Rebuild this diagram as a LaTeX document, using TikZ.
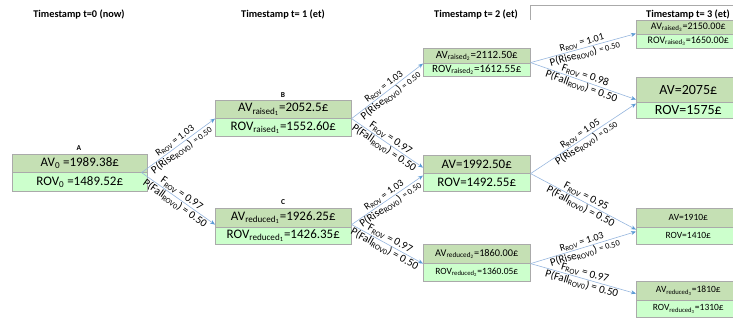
\documentclass[tikz,border=0pt]{standalone}
\usepackage{fontspec}
\setmainfont{Carlito}
\usetikzlibrary{arrows.meta}
\definecolor{avgreen}{RGB}{197,224,180}
\definecolor{rovgreen}{RGB}{204,255,204}
\definecolor{boxgray}{RGB}{170,170,170}
\definecolor{edgeblue}{RGB}{150,182,222}
\definecolor{tipblue}{RGB}{91,155,213}
\newcommand{\sub}[1]{\textsubscript{#1}}
\newcommand{\fs}[1]{\fontsize{#1}{#1}\selectfont}
\begin{document}
\begin{tikzpicture}[x=1pt, y=-1pt,
  cell/.style={draw=boxgray, line width=0.6pt, inner sep=0pt, anchor=north west},
  avrow/.style={cell, fill=avgreen},
  rovrow/.style={cell, fill=rovgreen},
  heading/.style={font=\fs{10.3}\bfseries},
  tag/.style={font=\fs{7.5}\bfseries},
  link/.style={draw=edgeblue, line width=0.6pt, -{Stealth[length=5pt,width=4pt,color=tipblue]}},
  rlab/.style={font=\fs{10}, sloped, above, inner sep=1pt},
  flab/.style={font=\fs{11}, sloped, above, inner sep=1pt},
  plab/.style={font=\fs{11}, sloped, below, inner sep=0.5pt}]
\useasboundingbox (0,0) rectangle (733,320);
% Timestamps
\node[heading] (h0) at (79,14) {Timestamp t=0 (now)};
\node[heading] (h1) at (283,14) {Timestamp t= 1 (et)};
\node[heading] (h2) at (476,14) {Timestamp t= 2 (et)};
\node[heading] (h3) at (688,14) {Timestamp t= 3 (et)};
\draw[boxgray, line width=0.6pt] (740,5) -- (530,5) -- (530,20);
% t=0
\node[tag] (tA) at (79,148) {A};
\node[avrow, minimum width=135pt, minimum height=18pt, font=\fs{13}] (At) at (12,154) {AV\sub{0} =1989.38£};
\node[rovrow, minimum width=135pt, minimum height=19pt, font=\fs{13}] (Ab) at (12,172) {ROV\sub{0} =1489.52£};
% t=1
\node[tag] (tB) at (283,95) {B};
\node[avrow, minimum width=136pt, minimum height=18pt, font=\fs{13}] (Bt) at (215,100) {AV\sub{raised\sub{1}}=2052.5£};
\node[rovrow, minimum width=136pt, minimum height=18pt, font=\fs{13}] (Bb) at (215,118) {ROV\sub{raised\sub{1}}=1552.60£};
\node[tag] (tC) at (283,202) {C};
\node[avrow, minimum width=136pt, minimum height=19pt, font=\fs{13}] (Ct) at (215,208) {AV\sub{reduced\sub{1}}=1926.25£};
\node[rovrow, minimum width=136pt, minimum height=17pt, font=\fs{13}] (Cb) at (215,227) {ROV\sub{reduced\sub{1}}=1426.35£};
% t=2
\node[avrow, minimum width=107pt, minimum height=15pt, font=\fs{11}] (R2t) at (423,48) {AV\sub{raised\sub{2}}=2112.50£};
\node[rovrow, minimum width=107pt, minimum height=13pt, font=\fs{11}] (R2b) at (423,63) {ROV\sub{raised\sub{2}}=1612.55£};
\node[avrow, minimum width=107pt, minimum height=18pt, font=\fs{13}] (Mt) at (423,155) {AV=1992.50£};
\node[rovrow, minimum width=107pt, minimum height=18pt, font=\fs{13}] (Mb) at (423,173) {ROV=1492.55£};
\node[avrow, minimum width=107pt, minimum height=19pt, font=\fs{10.3}] (D2t) at (423,244) {AV\sub{reduced\sub{2}}=1860.00£};
\node[rovrow, minimum width=107pt, minimum height=18pt, font=\fs{9.5}] (D2b) at (423,263) {ROV\sub{reduced\sub{2}}=1360.05£};
% t=3
\node[avrow, minimum width=104pt, minimum height=14pt, font=\fs{10}] (R3t) at (636,20) {AV\sub{raised\sub{3}}=2150.00£};
\node[rovrow, minimum width=104pt, minimum height=14pt, font=\fs{10}] (R3b) at (636,34) {ROV\sub{raised\sub{3}}=1650.00£};
\node[avrow, minimum width=104pt, minimum height=25pt, font=\fs{14}] (T5t) at (636,77) {AV=2075£};
\node[rovrow, minimum width=104pt, minimum height=16pt, font=\fs{14}] (T5b) at (636,102) {ROV=1575£};
\node[avrow, minimum width=104pt, minimum height=19pt, font=\fs{9.5}] (T0t) at (636,208) {AV=1910£};
\node[rovrow, minimum width=104pt, minimum height=17pt, font=\fs{9.5}] (T0b) at (636,227) {ROV=1410£};
\node[avrow, minimum width=104pt, minimum height=19pt, font=\fs{9.5}] (D3t) at (636,281) {AV\sub{reduced\sub{3}}=1810£};
\node[rovrow, minimum width=104pt, minimum height=17pt, font=\fs{9.5}] (D3b) at (636,300) {ROV\sub{reduced\sub{3}}=1310£};
% Rises
\draw[link] ([xshift=-6pt]At.south east) -- (Bt.south west)
  node[rlab, midway] {R\sub{ROV} = 1.03}
  node[plab, midway] {P(Rise\sub{ROV0}) {\fs{8.5}= 0.50}};
\draw[link] (Bt.south east) -- (R2t.south west)
  node[rlab, midway] {R\sub{ROV} = 1.03}
  node[plab, midway] {P(Rise\sub{ROV0}) {\fs{8.5}= 0.50}};
\draw[link] ([yshift=3pt]Ct.south east) -- ([yshift=-2pt]Mt.south west)
  node[rlab, midway] {R\sub{ROV} = 1.03}
  node[plab, midway] {P(Rise\sub{ROV0}) {\fs{8.5}= 0.50}};
\draw[link] ([yshift=1pt]R2t.south east) -- ([yshift=1pt]R3t.south west)
  node[rlab, midway] {R\sub{ROV} = 1.01}
  node[plab, midway] {P(Rise\sub{ROV0}) {\fs{8.5}= 0.50}};
\draw[link] (Mt.south east) -- ([yshift=-1pt]T5t.south west)
  node[rlab, midway] {R\sub{ROV} = 1.05}
  node[plab, midway] {P(Rise\sub{ROV0}) {\fs{8.5}= 0.50}};
\draw[link] (D2t.south east) -- ([yshift=-4pt]T0t.south west)
  node[rlab, midway] {R\sub{ROV} = 1.03}
  node[plab, midway] {P(Rise\sub{ROV0}) {\fs{8.5}= 0.50}};
% Falls
\draw[link] ([xshift=-6pt]At.south east) -- ([yshift=3pt]Ct.south west)
  node[flab, midway] {F\sub{ROV} = 0.97}
  node[plab, midway] {P(Fall\sub{ROV0}) = 0.50};
\draw[link] (Bt.south east) -- ([yshift=6pt]Mt.south west)
  node[flab, midway] {F\sub{ROV} = 0.97}
  node[plab, midway] {P(Fall\sub{ROV0}) = 0.50};
\draw[link] ([yshift=3pt]Ct.south east) -- (D2t.south west)
  node[flab, midway] {F\sub{ROV} = 0.97}
  node[plab, midway] {P(Fall\sub{ROV0}) = 0.50};
\draw[link] ([yshift=1pt]R2t.south east) -- ([yshift=3pt]T5t.south west)
  node[flab, midway] {F\sub{ROV} = 0.98}
  node[plab, midway] {P(Fall\sub{ROV0}) = 0.50};
\draw[link] (Mt.south east) -- ([yshift=-2pt]T0t.south west)
  node[flab, midway] {F\sub{ROV} = 0.95}
  node[plab, midway] {P(Fall\sub{ROV0}) = 0.50};
\draw[link] (D2t.south east) -- ([yshift=7pt]D3t.south west)
  node[flab, midway] {F\sub{ROV} = 0.97}
  node[plab, midway] {P(Fall\sub{ROV0}) = 0.50};
\end{tikzpicture}
\end{document}
